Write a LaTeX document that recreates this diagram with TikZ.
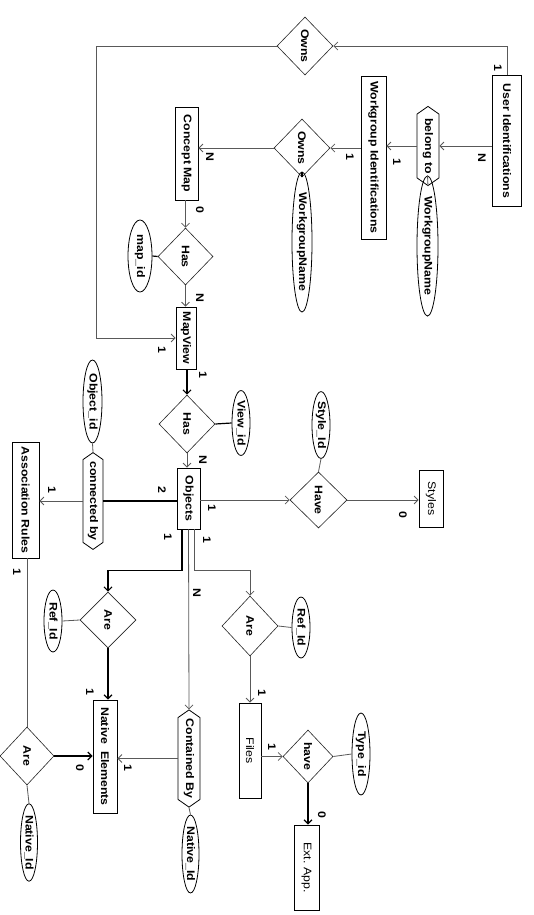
\documentclass[tikz,border=0pt]{standalone}
\usepackage{fontspec}
\setmainfont{Liberation Sans}[FakeStretch=1.12]
\usetikzlibrary{shapes.geometric,shapes.symbols,arrows.meta}
\begin{document}
\begin{tikzpicture}[x=1pt,y=-1pt,
  font=\fontsize{11}{13}\selectfont\bfseries,
  ent/.style={draw,rectangle,inner sep=0pt,line width=0.8pt},
  rel/.style={draw=black!85,diamond,inner sep=0pt,line width=0.6pt},
  hex/.style={draw,signal,signal to=north and south,signal pointer angle=110,inner sep=0pt,line width=0.8pt},
  att/.style={draw,ellipse,inner sep=0pt,line width=0.8pt},
  ln/.style={draw=black!65,line width=0.8pt},
  thk/.style={draw=black,line width=1.2pt},
  arr/.style={-{Straight Barb[length=4pt,width=8pt]}},
  lbl/.style={inner sep=0pt,rotate=-90},
  ]
\useasboundingbox[fill=white] (0,0) rectangle (534,915);
% entities
\node[ent,minimum width=29pt,minimum height=131pt] (uid) at (507,141) {\rotatebox{-90}{User Identifications}};
\node[ent,minimum width=25pt,minimum height=163pt] (wid) at (373.5,157.5) {\rotatebox{-90}{Workgroup Identifications}};
\node[ent,minimum width=23pt,minimum height=93pt] (cm) at (186.5,153.5) {\rotatebox{-90}{Concept Map}};
\node[ent,minimum width=20pt,minimum height=62pt] (mv) at (186,338) {\rotatebox{-90}{MapView}};
\node[ent,minimum width=23pt,minimum height=61pt] (obj) at (188.5,498.5) {\rotatebox{-90}{Objects}};
\node[ent,minimum width=27pt,minimum height=116pt] (ar) at (25.5,500) {\rotatebox{-90}{Association Rules}};
\node[ent,minimum width=24pt,minimum height=57pt] (sty) at (431,498.5) {\rotatebox{-90}{\mdseries Styles}};
\node[ent,minimum width=24pt,minimum height=113pt] (ne) at (105,756.5) {\rotatebox{-90}{Native\ \ Elements}};
\node[ent,minimum width=22pt,minimum height=95pt] (files) at (250,750.5) {\rotatebox{-90}{\mdseries Files}};
\node[ent,minimum width=25pt,minimum height=85pt] (ext) at (306.5,867.5) {\rotatebox{-90}{\mdseries Ext.\ App.}};
% relationships
\node[rel,minimum width=56pt,minimum height=58pt] (own1) at (305,46) {\rotatebox{-90}{Owns}};
\node[rel,minimum width=56pt,minimum height=58pt] (own2) at (302,148) {\rotatebox{-90}{Owns}};
\node[rel,minimum width=55pt,minimum height=57pt] (has1) at (185.5,256.5) {\rotatebox{-90}{Has}};
\node[rel,minimum width=56pt,minimum height=58pt] (has2) at (187,424) {\rotatebox{-90}{Has}};
\node[rel,minimum width=57pt,minimum height=56pt] (have) at (318.5,500) {\rotatebox{-90}{Have}};
\node[rel,minimum width=56pt,minimum height=56pt] (are1) at (108,620) {\rotatebox{-90}{Are}};
\node[rel,minimum width=56pt,minimum height=60pt] (are2) at (250,626) {\rotatebox{-90}{Are}};
\node[rel,minimum width=54pt,minimum height=58pt] (are3) at (27,756) {\rotatebox{-90}{Are}};
\node[rel,minimum width=50pt,minimum height=53pt] (hv) at (308,756.5) {\rotatebox{-90}{have}};
\node[hex,minimum width=22pt,minimum height=71pt] (bel) at (428,146) {\rotatebox{-90}{belong to}};
\node[hex,minimum width=20pt,minimum height=90pt] (conn) at (93,501) {\rotatebox{-90}{connected by}};
\node[hex,minimum width=22pt,minimum height=89pt] (cb) at (189,758.5) {\rotatebox{-90}{Contained By}};
% attributes
\node[att,minimum width=21pt,minimum height=112pt] (wn1) at (427.5,246) {\rotatebox{-90}{WorkgroupName}};
\node[att,minimum width=20pt,minimum height=115pt] (wn2) at (302,242) {\rotatebox{-90}{WorkgroupName}};
\node[att,minimum width=24pt,minimum height=72pt] (mapid) at (140,256) {\rotatebox{-90}{map\_id}};
\node[att,minimum width=18pt,minimum height=65pt] (viewid) at (241,423) {\rotatebox{-90}{View\_id}};
\node[att,minimum width=18pt,minimum height=65pt] (styleid) at (321,425) {\rotatebox{-90}{Style\_Id}};
\node[att,minimum width=19pt,minimum height=83pt] (objid) at (92.5,401.5) {\rotatebox{-90}{Object\_id}};
\node[att,minimum width=18pt,minimum height=62pt] (ref1) at (53,621) {\rotatebox{-90}{Ref\_Id}};
\node[att,minimum width=18pt,minimum height=61pt] (ref2) at (301,627.5) {\rotatebox{-90}{Ref\_Id}};
\node[att,minimum width=17pt,minimum height=75pt] (nid1) at (29,842.5) {\rotatebox{-90}{Native\_Id}};
\node[att,minimum width=17pt,minimum height=78pt] (nid2) at (190.5,854) {\rotatebox{-90}{Native\_Id}};
\node[att,minimum width=18pt,minimum height=82pt] (typeid) at (361,754) {\rotatebox{-90}{Type\_id}};
% connectors
\draw[ln,arr] (uid.north) |- (own1.east);
\draw[ln,arr] (own1.west) -- ++(-180,0) |- (mv.west);
\draw[ln,arr] (uid.west |- bel.east) -- (bel.east);
\draw[ln,arr] (bel.west) -- (wid.east |- bel.west);
\draw[ln] (bel.south) -- (wn1.north);
\draw[ln,arr] (wid.west |- own2.east) -- (own2.east);
\draw[ln,arr] (own2.west) -- (cm.east |- own2.west);
\draw[thk] (own2.south) -- (wn2.north);
\draw[ln,arr] (cm.south -| has1.north) -- (has1.north);
\draw[thk] (has1.west) -- (mapid.east);
\draw[ln,arr] (has1.south) -- (mv.north -| has1.south);
\draw[thk,arr] (mv.south -| has2.north) -- (has2.north);
\draw[thk] (has2.east) -- (viewid.west);
\draw[ln,arr] (has2.south) -- (obj.north -| has2.south);
\draw[thk] (obj.west |- conn.east) -- (conn.east);
\draw[ln,arr] (conn.west) -- (ar.east |- conn.west);
\draw[ln] (conn.north) -- (objid.south);
\draw[ln,arr] (obj.east |- have.west) -- (have.west);
\draw[ln] (have.north) -- (styleid.south);
\draw[ln,arr] (have.east) -- (sty.west |- have.east);
\draw[thk,arr] ([xshift=-6.5pt]obj.south) -- ++(0,41) -| (are1.north);
\draw[ln,arr] (obj.south) -- (cb.north);
\draw[ln,arr] ([xshift=5.5pt]obj.south) -- ++(0,41) -| (are2.north);
\draw[ln] (are1.west) -- (ref1.east);
\draw[ln] (are2.east) -- (ref2.west);
\draw[thk,arr] (are1.south) -- (ne.north -| are1.south);
\draw[ln,arr] (are2.south) -- (files.north -| are2.south);
\draw[ln] (are3.north |- ar.south) -- (are3.north);
\draw[thk,arr] (are3.east) -- (ne.west |- are3.east);
\draw[ln] (are3.south) -- (nid1.north);
\draw[ln,arr] (cb.west) -- (ne.east |- cb.west);
\draw[ln] (cb.south) -- (nid2.north);
\draw[ln,arr] (files.east |- hv.west) -- (hv.west);
\draw[ln] (hv.east) -- (typeid.west);
\draw[thk,arr] (hv.south) -- (ext.north -| hv.south);
% cardinality labels
\node[lbl] (c1) at (498,68) {1};
\node[lbl] (c2) at (162,350) {1};
\node[lbl] (c3) at (482,158) {N};
\node[lbl] (c4) at (397,162) {1};
\node[lbl] (c5) at (350,157) {1};
\node[lbl] (c6) at (210,157) {N};
\node[lbl] (c7) at (200,210) {0};
\node[lbl] (c8) at (200,298) {N};
\node[lbl] (c9) at (203,375) {1};
\node[lbl] (c10) at (203,460) {N};
\node[lbl] (c11) at (162,490) {2};
\node[lbl] (c12) at (52,490) {1};
\node[lbl] (c13) at (212,508) {1};
\node[lbl] (c14) at (403,515) {0};
\node[lbl] (c15) at (168,537) {1};
\node[lbl] (c16) at (197,593) {N};
\node[lbl] (c17) at (207,540) {1};
\node[lbl] (c18) at (17,572) {1};
\node[lbl] (c19) at (90,692) {1};
\node[lbl] (c20) at (262,693) {1};
\node[lbl] (c21) at (80,768) {0};
\node[lbl] (c22) at (128,768) {1};
\node[lbl] (c23) at (272,747) {1};
\node[lbl] (c24) at (322,815) {0};
\end{tikzpicture}
\end{document}
